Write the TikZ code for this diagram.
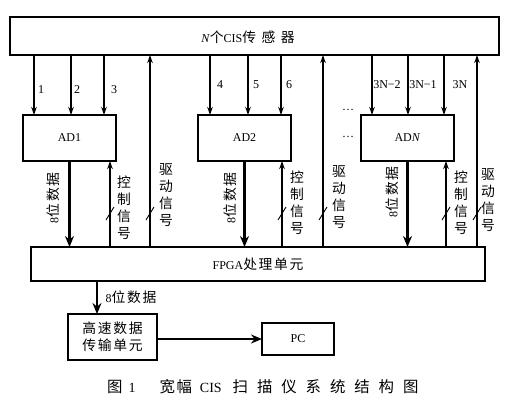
\documentclass[tikz,border=0pt]{standalone}
\usepackage{fontspec}
\setmainfont{Liberation Serif}
\newfontfamily\cjk[Scale=1.15,LetterSpace=12]{Noto Sans CJK SC}
\newfontfamily\cjkwide[Scale=1.15,LetterSpace=40]{Noto Sans CJK SC}
\newfontfamily\cjkcap[Scale=1.1,LetterSpace=58]{Noto Sans CJK SC}
\newfontfamily\cjkcapn[Scale=1.1,LetterSpace=10]{Noto Sans CJK SC}
\usetikzlibrary{arrows.meta}
\newcommand{\zh}[1]{{\cjk #1}}
\begin{document}
\begin{tikzpicture}[x=1pt,y=-1pt,
  box/.style={draw, line width=1.1pt, inner sep=0pt, outer sep=0pt, font=\fontsize{12}{14}\selectfont},
  thinarr/.style={line width=1.2pt, -{Stealth[length=8pt,width=5.5pt]}},
  thickarr/.style={line width=2.6pt, -{Stealth[length=11pt,width=9pt]}},
  vlab/.style={align=center, inner sep=0pt, font=\cjk\fontsize{12}{17}\selectfont},
  rlab/.style={inner sep=0pt, rotate=90, font=\fontsize{12}{14}\selectfont},
  num/.style={inner sep=0pt, font=\fontsize{12}{14}\selectfont},
  slash/.style={line width=0.9pt}]
\useasboundingbox (0,0) rectangle (514,406);

% boxes
\node[box, minimum width=489pt, minimum height=38pt] (sens) at (254.5,36) {};
\node[num] (senst) at (248,37) {\textit{N}{\cjkwide 个}CIS{\cjkwide 传感器}};
\node[box, minimum width=93pt, minimum height=46pt] (ad1) at (69.5,138) {AD1};
\node[box, minimum width=93pt, minimum height=46pt] (ad2) at (244.5,138) {AD2};
\node[box, minimum width=93pt, minimum height=46pt] (adn) at (407.5,138) {AD\textit{N}};
\node[box, minimum width=454pt, minimum height=34pt] (fpga) at (258,264) {FPGA\zh{处理单元}};
\node[box, minimum width=89pt, minimum height=46pt, align=center, font=\cjk\fontsize{12}{17}\selectfont] (hs) at (112.5,337) {高速数据\\传输单元};
\node[box, minimum width=72pt, minimum height=32pt] (pc) at (298,339) {PC};

% x positions
\coordinate (c1) at (34,0);  \coordinate (c2) at (71,0);  \coordinate (c3) at (104,0);
\coordinate (c4) at (210,0); \coordinate (c5) at (248,0); \coordinate (c6) at (281,0);
\coordinate (c7) at (372,0); \coordinate (c8) at (408,0); \coordinate (c9) at (444,0);
\coordinate (k1) at (110,0); \coordinate (d1) at (150,0);
\coordinate (k2) at (282,0); \coordinate (d2) at (323,0);
\coordinate (k3) at (446,0); \coordinate (d3) at (477,0);
\coordinate (o1) at (97,0);

% sensor -> AD arrows
\foreach \c/\a in {c1/ad1,c2/ad1,c3/ad1,c4/ad2,c5/ad2,c6/ad2,c7/adn,c8/adn,c9/adn}
  \draw[thinarr] (sens.south -| \c) -- (\a.north -| \c);

% number labels
\node[num] (n1) at (41,90) {1};
\node[num] (n2) at (77,90) {2};
\node[num] (n3) at (114,90) {3};
\node[num] (n4) at (220,85) {4};
\node[num] (n5) at (256,85) {5};
\node[num] (n6) at (289,85) {6};
\node[num] (n7) at (387,85) {3N−2};
\node[num] (n8) at (423,85) {3N−1};
\node[num] (n9) at (460,85) {3N};
\node[num] (dots1) at (348,110) {…};
\node[num] (dots2) at (348,137) {…};

% data arrows AD -> FPGA
\foreach \a in {ad1,ad2,adn}
  \draw[thickarr] (\a.south) -- (fpga.north -| \a.south);

% control arrows FPGA -> AD
\foreach \k/\a in {k1/ad1,k2/ad2,k3/adn}
  \draw[thinarr] (fpga.north -| \k) -- (\a.south -| \k);
% drive arrows FPGA -> sensor
\foreach \d in {d1,d2,d3}
  \draw[thinarr] (fpga.north -| \d) -- (sens.south -| \d);

% slashes
\foreach \x in {110,150,282,323,446,477}
  \draw[slash] (\x-4,220) -- (\x+4,207);

% vertical labels
\node[rlab] (dl1) at (53,198) {8\zh{位数据}};
\node[rlab] (dl2) at (230,198) {8\zh{位数据}};
\node[rlab] (dl3) at (392,192) {8\zh{位数据}};
\node[vlab] (kl1) at (124,208) {控\\制\\信\\号};
\node[vlab] (kl2) at (297,203) {控\\制\\信\\号};
\node[vlab] (kl3) at (461,203) {控\\制\\信\\号};
\node[vlab] (vl1) at (166,195) {驱\\动\\信\\号};
\node[vlab] (vl2) at (339,197) {驱\\动\\信\\号};
\node[vlab] (vl3) at (488,200) {驱\\动\\信\\号};

% bottom
\draw[thickarr] (fpga.south -| o1) -- (hs.north -| o1);
\node[num] (bl) at (131,297) {8\zh{位数据}};
\draw[thickarr] (hs.east |- pc.west) -- (pc.west);

\node[inner sep=0pt, anchor=west, font=\fontsize{14}{16}\selectfont] (cap) at (107,387) {{\cjkcap 图}\hspace{6pt}1\hspace{24pt}{\cjkcapn 宽幅}\hspace{8pt}CIS\hspace{11pt}{\cjkcap 扫描仪系统结构图}};
\end{tikzpicture}
\end{document}
